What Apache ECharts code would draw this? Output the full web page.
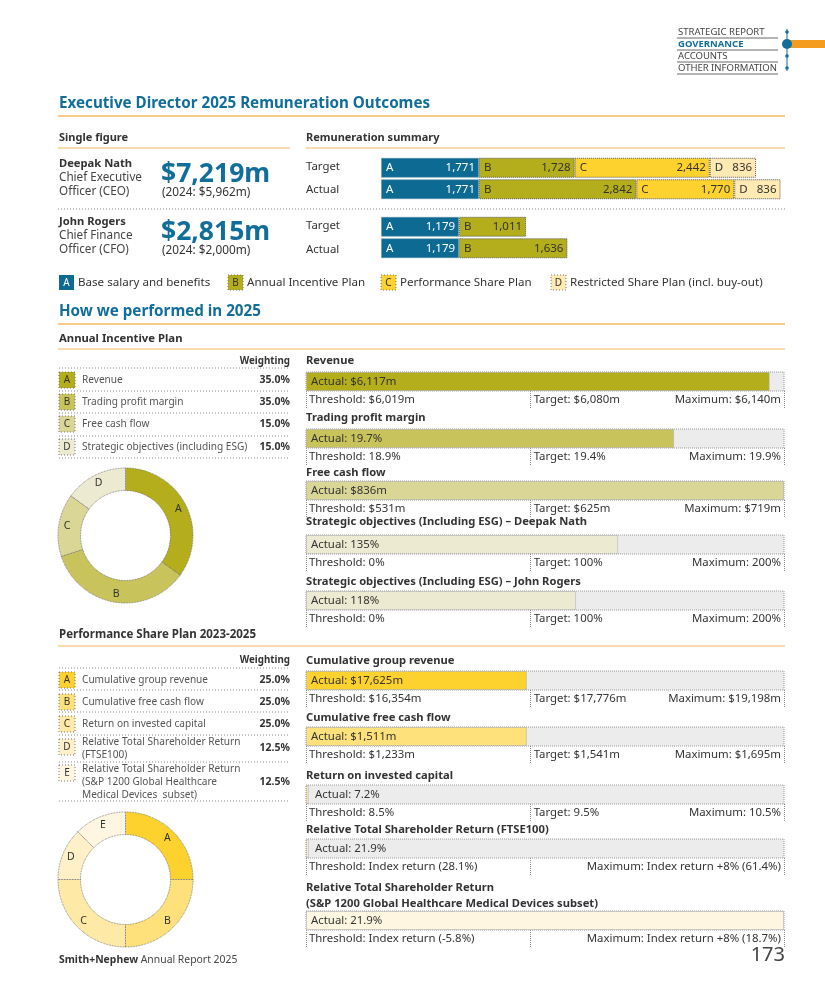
<!DOCTYPE html>
<html><head><meta charset="utf-8">
<script src="https://cdn.jsdelivr.net/npm/echarts@6/dist/echarts.min.js"></script>
<style>html,body{margin:0;padding:0;background:#fff}#c{width:825px;height:983px}</style>
</head><body><div id="c"></div>
<script>
// ================= DATA =================
// Remuneration summary ($000)
const remRows = ['Target', 'Actual'];
const remLetters = ['A', 'B', 'C', 'D'];
const remNames = ['Base salary and benefits', 'Annual Incentive Plan', 'Performance Share Plan', 'Restricted Share Plan (incl. buy-out)'];
const ceoA = [1771, 1771];
const ceoB = [1728, 2842];
const ceoC = [2442, 1770];
const ceoD = [836, 836];
const cfoA = [1179, 1179];
const cfoB = [1011, 1636];

const directorNames = ['Deepak Nath', 'John Rogers'];
const directorRoles = [['Chief Executive', 'Officer (CEO)'], ['Chief Finance', 'Officer (CFO)']];
const singleFigures = ['$7,219m', '$2,815m'];
const priorFigures = ['(2024: $5,962m)', '(2024: $2,000m)'];

// Annual Incentive Plan
const aipLetters = ['A', 'B', 'C', 'D'];
const aipMeasures = ['Revenue', 'Trading profit margin', 'Free cash flow', 'Strategic objectives (including ESG)'];
const aipWeights = [35.0, 35.0, 15.0, 15.0];
const aipTitles = ['Revenue', 'Trading profit margin', 'Free cash flow',
  'Strategic objectives (Including ESG) \u2013 Deepak Nath', 'Strategic objectives (Including ESG) \u2013 John Rogers'];
const aipActual = ['Actual: $6,117m', 'Actual: 19.7%', 'Actual: $836m', 'Actual: 135%', 'Actual: 118%'];
const aipFill = [97, 77, 100, 65.3, 56.5];   // bar length, % of threshold-to-maximum scale
const aipThreshold = ['Threshold: $6,019m', 'Threshold: 18.9%', 'Threshold: $531m', 'Threshold: 0%', 'Threshold: 0%'];
const aipTarget = ['Target: $6,080m', 'Target: 19.4%', 'Target: $625m', 'Target: 100%', 'Target: 100%'];
const aipMaximum = ['Maximum: $6,140m', 'Maximum: 19.9%', 'Maximum: $719m', 'Maximum: 200%', 'Maximum: 200%'];
const aipColorOf = [0, 1, 2, 3, 3];

// Performance Share Plan 2023-2025
const pspLetters = ['A', 'B', 'C', 'D', 'E'];
const pspMeasures = ['Cumulative group revenue', 'Cumulative free cash flow', 'Return on invested capital',
  'Relative Total Shareholder Return\n(FTSE100)', 'Relative Total Shareholder Return\n(S&P 1200 Global Healthcare\nMedical Devices  subset)'];
const pspWeights = [25.0, 25.0, 25.0, 12.5, 12.5];
const pspTitles = ['Cumulative group revenue', 'Cumulative free cash flow', 'Return on invested capital',
  'Relative Total Shareholder Return (FTSE100)', 'Relative Total Shareholder Return\n(S&P 1200 Global Healthcare Medical Devices subset)'];
const pspActual = ['Actual: $17,625m', 'Actual: $1,511m', 'Actual: 7.2%', 'Actual: 21.9%', 'Actual: 21.9%'];
const pspFill = [46.2, 46.2, 0.6, 0.6, 100];
const pspThreshold = ['Threshold: $16,354m', 'Threshold: $1,233m', 'Threshold: 8.5%', 'Threshold: Index return (28.1%)', 'Threshold: Index return (-5.8%)'];
const pspTarget = ['Target: $17,776m', 'Target: $1,541m', 'Target: 9.5%', '', ''];
const pspMaximum = ['Maximum: $19,198m', 'Maximum: $1,695m', 'Maximum: 10.5%', 'Maximum: Index return +8% (61.4%)', 'Maximum: Index return +8% (18.7%)'];

const scaleMarks = [0, 47, 100];   // threshold, target, maximum positions on the scale

const navItems = ['STRATEGIC REPORT', 'GOVERNANCE', 'ACCOUNTS', 'OTHER INFORMATION'];

// ================= STYLE =================
const FONT = "'Noto Sans', 'Open Sans', sans-serif";
const BLUE = '#116e9a';
const BAR_BLUE = '#0c6a93';
const ORANGE = '#f5b85e';
const DARK = '#333333';
const GREY_TXT = '#555555';
const DOT = '#8a8a8a';
const remColors = [BAR_BLUE, '#b4ad1c', '#fdd22f', '#feeab2'];
const aipColors = ['#b4ad1c', '#c9c35c', '#dad696', '#ecead0'];
const pspColors = ['#fdd22f', '#fee17b', '#fee9a7', '#fff0c8', '#fff6e2'];

// ================= BUILD =================
const G = [];
function f(size, weight) { return (weight || 'normal') + ' ' + size + 'px ' + FONT; }
function T(text, x, y, size, o) {
  o = o || {};
  G.push({ type: 'text', silent: true, z: 10, style: {
    text: text, x: x, y: y, font: f(size, o.weight), fill: o.color || DARK,
    textAlign: o.align || 'left', textVerticalAlign: 'middle', align: o.align || 'left', verticalAlign: 'middle',
    lineHeight: o.lh || Math.round(size * 1.2)
  }});
}
function L(x1, y1, x2, y2, color, w, dash) {
  G.push({ type: 'line', silent: true, z: 5, shape: { x1: x1, y1: y1, x2: x2, y2: y2 },
    style: { stroke: color, lineWidth: w || 1, lineDash: dash || null } });
}
function R(x, y, w, h, fill, stroke, dash) {
  G.push({ type: 'rect', silent: true, z: 6, shape: { x: x, y: y, width: w, height: h },
    style: { fill: fill, stroke: stroke || null, lineWidth: 1, lineDash: dash || null } });
}
function C(cx, cy, r, fill) {
  G.push({ type: 'circle', silent: true, z: 7, shape: { cx: cx, cy: cy, r: r }, style: { fill: fill } });
}
const DOTS = [1, 2];

// ---- nav ----
const navY = [32, 44, 56, 68];
navItems.forEach((t, i) => {
  T(t, 678, navY[i], 9.5, { color: i === 1 ? BLUE : '#444', weight: i === 1 ? 'bold' : 'normal' });
  L(677, navY[i] + 6, 778, navY[i] + 6, '#444', 0.8);
});
R(787, 40, 38, 8, '#f39c1f');
L(787, 29, 787, 71, BLUE, 1);
[32, 56, 68].forEach(y => C(787, y, 1.8, BLUE));
C(787, 44, 5, BLUE);

// ---- headings ----
T('Executive Director 2025 Remuneration Outcomes', 59, 104, 15.2, { weight: 'bold', color: BLUE });
L(58, 116, 785, 116, ORANGE, 1.5);
T('Single figure', 59, 138, 11, { weight: 'bold' });
L(58, 148, 290, 148, ORANGE, 1.2);
T('Remuneration summary', 306, 138, 11, { weight: 'bold' });
L(306, 148, 785, 148, ORANGE, 1.2);

// ---- single figures ----
const dirTop = [164, 222];
directorNames.forEach((n, i) => {
  const y = dirTop[i];
  T(n, 59, y, 11.2, { weight: 'bold' });
  T(directorRoles[i][0], 59, y + 14, 11.7, { color: '#444' });
  T(directorRoles[i][1], 59, y + 28, 11.7, { color: '#444' });
  T(singleFigures[i], 161, y + 10, 26.5, { weight: 'bold', color: BLUE });
  T(priorFigures[i], 162, y + 29, 11.8, { color: '#333' });
});
L(58, 209, 785, 209, DOT, 1, DOTS);
const remLabelY = [[167, 190], [226, 250]];
remLabelY.forEach(p => { T(remRows[0], 306, p[0], 11.4); T(remRows[1], 306, p[1], 11.4); });

// ---- legend ----
const legX = [59, 228, 381, 551];
remNames.forEach((n, i) => {
  R(legX[i], 275, 15, 15, remColors[i], i === 0 ? null : '#777', i === 0 ? null : DOTS);
  T(remLetters[i], legX[i] + 7.5, 283, 10, { align: 'center', color: i === 0 ? '#fff' : DARK });
  T(n, legX[i] + 19, 283, 11.6, { color: '#333' });
});

T('How we performed in 2025', 59, 312, 15.2, { weight: 'bold', color: BLUE });
L(58, 324, 785, 324, ORANGE, 1.5);
T('Annual Incentive Plan', 59, 339, 11.3, { weight: 'bold' });
L(58, 349, 785, 349, ORANGE, 1.2);
T('Performance Share Plan 2023-2025', 59, 635, 11.5, { weight: 'bold' });
L(58, 646, 785, 646, ORANGE, 1.2);

// ---- weighting tables ----
function table(letters, measures, weights, colors, headY, lines, rowY, boxY) {
  T('Weighting', 290, headY, 9.8, { weight: 'bold', align: 'right' });
  lines.forEach(y => L(59, y, 290, y, DOT, 1, DOTS));
  letters.forEach((l, i) => {
    R(59, boxY[i], 16, 16, colors[i], '#777', DOTS);
    T(l, 67, boxY[i] + 8, 10, { align: 'center' });
    T(measures[i], 82, rowY[i], 10.1, { color: GREY_TXT, lh: 13 });
    T(weights[i].toFixed(1) + '%', 290, rowY[i], 10.5, { weight: 'bold', align: 'right' });
  });
}
table(aipLetters, aipMeasures, aipWeights, aipColors, 361, [368, 391, 413, 436, 458], [380, 402, 424, 447], [372, 394, 416, 439]);
table(pspLetters, pspMeasures, pspWeights, pspColors, 660, [668, 690, 712, 735, 762, 801], [680, 702, 724, 748.5, 782], [672, 694, 716, 739, 765]);

// ---- footer ----
G.push({ type: 'text', silent: true, style: { text: '{b|Smith+Nephew} Annual Report 2025', x: 59, y: 960,
  font: f(10.4), fill: '#444', textVerticalAlign: 'middle', verticalAlign: 'middle',
  rich: { b: { fontWeight: 'bold', fontFamily: FONT, fontSize: 10.4, fill: '#333', color: '#333' } } } });
T('173', 785, 955, 20, { align: 'right', color: '#444' });

// ================= CHART SERIES =================
const grids = [], xAxes = [], yAxes = [], series = [];
function addGrid(left, top, width, height, max, cats, tickOpt) {
  const idx = grids.length;
  grids.push({ left: left, top: top, width: width, height: height, containLabel: false });
  xAxes.push({ gridIndex: idx, type: 'value', min: 0, max: max, axisLabel: { show: false },
    splitLine: { show: false }, axisLine: { show: false },
    axisTick: tickOpt || { show: false } });
  yAxes.push({ gridIndex: idx, type: 'category', data: cats, inverse: true, show: false });
  return idx;
}

// Remuneration stacked bars
function remBars(g, arrays) {
  arrays.forEach((arr, k) => {
    const base = { type: 'bar', xAxisIndex: g, yAxisIndex: g, barWidth: 20, barGap: '-100%', silent: true, data: arr };
    series.push(Object.assign({}, base, { stack: 'v' + g,
      itemStyle: { color: remColors[k], borderColor: k === 0 ? '#5f8ea5' : '#555', borderType: 'dotted', borderWidth: 1 },
      label: { show: true, position: 'insideRight', distance: 4, fontFamily: FONT, fontSize: 11.5,
        color: k === 0 ? '#fff' : DARK, formatter: p => p.value.toLocaleString('en-US') } }));
    series.push(Object.assign({}, base, { stack: 'l' + g, z: 3,
      itemStyle: { color: 'rgba(0,0,0,0)' },
      label: { show: true, position: 'insideLeft', distance: 5, fontFamily: FONT, fontSize: 11.5,
        color: k === 0 ? '#fff' : DARK, formatter: () => remLetters[k] } }));
  });
}
const gCEO = addGrid(381, 157, 404, 43, 7300, remRows);
remBars(gCEO, [ceoA, ceoB, ceoC, ceoD]);
const gCFO = addGrid(381, 216, 404, 43, 6100, remRows);
remBars(gCFO, [cfoA, cfoB]);

// Performance bars
const BAR_L = 306, BAR_W = 478, BAR_H = 19;
function perfBlock(titles, actual, fill, thr, tgt, mx, colors, titleY, barTop) {
  titles.forEach((t, i) => {
    const ty = titleY[i];
    T(t, 306, ty, 11.2, { weight: 'bold', lh: 16 });
    const tickOpt = { show: true, customValues: scaleMarks, length: 17, inside: false,
      lineStyle: { color: DOT, type: 'dotted', width: 1 } };
    const g = addGrid(BAR_L, barTop[i], BAR_W, BAR_H, 100, [t], tickOpt);
    series.push({ type: 'bar', xAxisIndex: g, yAxisIndex: g, barWidth: BAR_H, silent: true,
      data: [fill[i]], showBackground: true,
      backgroundStyle: { color: '#ececec', borderColor: '#9a9a9a', borderWidth: 1, borderType: 'dotted' },
      itemStyle: { color: colors[i], borderColor: '#a9a9a9', borderWidth: 1, borderType: 'dotted' },
      label: { show: true, position: 'insideLeft', distance: fill[i] < 2 ? 9 : 5, fontFamily: FONT, fontSize: 11.4,
        color: DARK, formatter: () => actual[i] } });
    const ly = barTop[i] + BAR_H + 9;
    T(thr[i], BAR_L + 3, ly, 11.4);
    if (tgt[i]) T(tgt[i], BAR_L + BAR_W * scaleMarks[1] / 100 + 3, ly, 11.4);
    T(mx[i], BAR_L + BAR_W - 3, ly, 11.4, { align: 'right' });
  });
}
perfBlock(aipTitles, aipActual, aipFill, aipThreshold, aipTarget, aipMaximum,
  aipColorOf.map(k => aipColors[k]), [361, 418, 473, 522, 582], [372, 429, 481, 535, 591]);
perfBlock(pspTitles, pspActual, pspFill, pspThreshold, pspTarget, pspMaximum,
  pspColors, [661, 718, 776, 830, 896], [671, 727, 785, 839, 911]);

// Donuts
function donut(cy, letters, weights, colors) {
  series.push({ type: 'pie', center: [125.5, cy], radius: [45, 67.5], startAngle: 90, clockwise: true,
    silent: true, animation: false,
    data: weights.map((v, i) => ({ value: v, name: letters[i], itemStyle: { color: colors[i] } })),
    itemStyle: { borderColor: '#666', borderWidth: 0.8, borderType: 'dotted' },
    label: { show: true, position: 'inside', rotate: 0, formatter: '{b}', fontFamily: FONT, fontSize: 10.5, color: DARK },
    labelLine: { show: false }, emphasis: { disabled: true } });
}
donut(535.5, aipLetters, aipWeights, aipColors);
donut(879.5, pspLetters, pspWeights, pspColors);

const chart = echarts.init(document.getElementById('c'), null, { renderer: 'canvas' });
chart.setOption({
  animation: false,
  backgroundColor: '#fff',
  textStyle: { fontFamily: FONT },
  tooltip: { show: false },
  grid: grids, xAxis: xAxes, yAxis: yAxes, series: series, graphic: G
});
</script></body></html>
